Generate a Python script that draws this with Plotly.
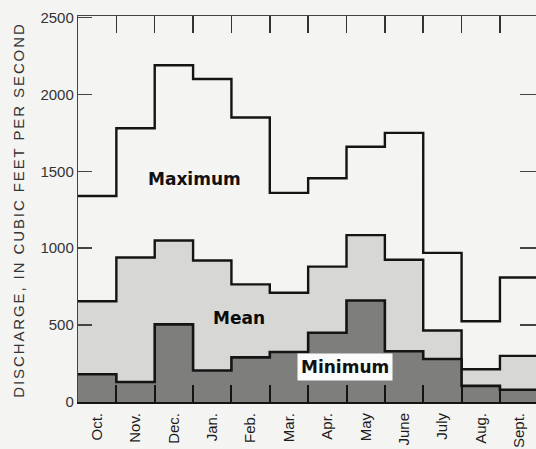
import plotly.graph_objects as go

months = ["Oct.", "Nov.", "Dec.", "Jan.", "Feb.", "Mar.", "Apr.", "May", "June", "July", "Aug.", "Sept."]
maximum = [1340, 1780, 2190, 2100, 1850, 1360, 1455, 1660, 1750, 970, 525, 810]
mean = [655, 940, 1050, 920, 765, 710, 880, 1085, 925, 465, 213, 300]
minimum = [180, 130, 505, 205, 290, 325, 450, 660, 330, 280, 105, 80]
y_ticks = [0, 500, 1000, 1500, 2000, 2500]

edges = list(range(len(months) + 1))
centers = [i + 0.5 for i in range(len(months))]

LINE = "#141414"
BG = "#f4f4f2"

def stepped(vals):
    return vals + [vals[-1]]

fig = go.Figure()
fig.add_trace(go.Scatter(x=edges, y=stepped(maximum), mode="lines", line=dict(shape="hv", color=LINE, width=2.4),
                         hoverinfo="skip", showlegend=False))
fig.add_trace(go.Scatter(x=edges, y=stepped(mean), mode="lines", line=dict(shape="hv", color=LINE, width=2.4),
                         fill="tozeroy", fillcolor="#d7d7d5", hoverinfo="skip", showlegend=False))
fig.add_trace(go.Scatter(x=edges, y=stepped(minimum), mode="lines", line=dict(shape="hv", color=LINE, width=2.6),
                         fill="tozeroy", fillcolor="#7e7e7c", hoverinfo="skip", showlegend=False))
# invisible trace to carry the top / right tick axes
fig.add_trace(go.Scatter(x=[0], y=[0], xaxis="x2", yaxis="y2", mode="markers",
                         marker=dict(opacity=0), hoverinfo="skip", showlegend=False))

xr = [0, 11.94]
yr = [0, 2510]

fig.update_layout(
    width=536, height=449,
    margin=dict(l=78, r=0, t=16, b=47),
    paper_bgcolor=BG, plot_bgcolor=BG,
    font=dict(family="Liberation Sans", color="#222", size=15),
    xaxis=dict(range=xr, tickvals=centers, ticktext=months, tickangle=-90, ticks="",
               showgrid=False, zeroline=False, showline=True, linecolor=LINE, linewidth=2,
               tickfont=dict(size=15, color="#1c1c1c"), automargin=False, ticklabelstandoff=3,
               minor=dict(tickvals=edges[1:-1], ticks="inside", ticklen=17, tickwidth=2, tickcolor=LINE)),
    xaxis2=dict(range=xr, overlaying="x", side="top", tickvals=edges[1:-1], ticks="inside", ticklen=17,
                tickwidth=1.5, tickcolor="#333", showticklabels=False, showgrid=False, zeroline=False,
                showline=True, linecolor="#444", linewidth=1.2),
    yaxis=dict(range=yr, tickvals=y_ticks, ticks="inside", ticklen=14, tickwidth=1.5, tickcolor="#444",
               showgrid=False, zeroline=False, showline=True, linecolor="#444", linewidth=1.2,
               tickfont=dict(size=15, color="#333"), automargin=False),
    yaxis2=dict(range=yr, overlaying="y", side="right", tickvals=y_ticks[1:-1], ticks="inside", ticklen=16,
                tickwidth=1.5, tickcolor="#444", showticklabels=False, showgrid=False, zeroline=False,
                showline=False),
)

fig.add_annotation(text="DISCHARGE, IN CUBIC FEET PER SECOND", textangle=-90, xref="paper", yref="paper",
                   x=-59 / 458, y=0.496, xanchor="center", yanchor="middle", showarrow=False,
                   font=dict(size=15, color="#333"))
fig.add_annotation(text="Maximum", x=3.03, y=1450, showarrow=False,
                   font=dict(family="DejaVu Sans", size=17, color="#111", weight="bold"))
fig.add_annotation(text="Mean", x=4.21, y=545, showarrow=False,
                   font=dict(family="DejaVu Sans", size=17, color="#0a0a0a", weight="bold"))
fig.add_annotation(text="Minimum", x=6.97, y=228, showarrow=False, bgcolor="#fbfbfb", borderpad=3,
                   font=dict(family="DejaVu Sans", size=17, color="#111", weight="bold"))

post = ("document.body.style.margin='0';document.body.style.overflow='hidden';"
        "document.querySelectorAll('text').forEach(function(t){"
        "if(t.textContent.indexOf('DISCHARGE')===0){t.style.letterSpacing='1.9px';}});")
fig.write_html("out.html", post_script=post, config={"displayModeBar": False, "staticPlot": True})
